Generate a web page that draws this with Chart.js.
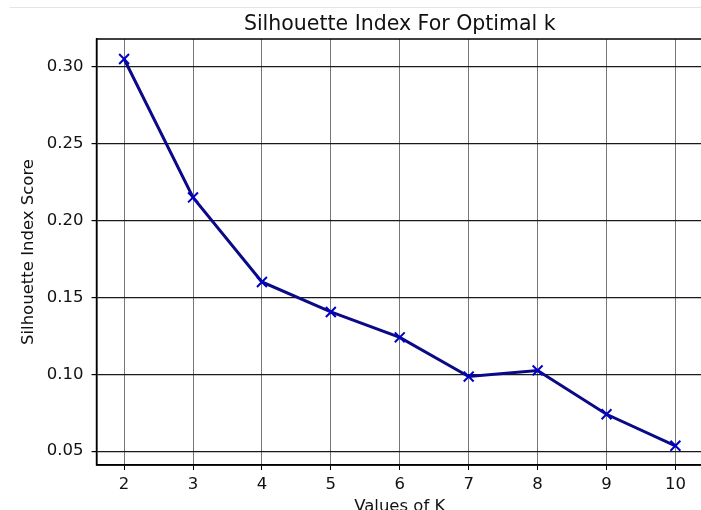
<!DOCTYPE html>
<html>
<head>
<meta charset="utf-8">
<script src="https://cdn.jsdelivr.net/npm/chart.js@4"></script>
<style>
  body { margin: 0; background: #fff; overflow: hidden; }
  canvas { display: block; }
</style>
</head>
<body>
<canvas id="myChart" width="712" height="520"></canvas>
<script>
// values
const kValues = [2, 3, 4, 5, 6, 7, 8, 9, 10];
const scores = [0.305, 0.215, 0.160, 0.1405, 0.124, 0.0985, 0.1025, 0.074, 0.0535];
const yTicks = [0.05, 0.10, 0.15, 0.20, 0.25, 0.30];

const chartTitle = 'Silhouette Index For Optimal k';
const xTitle = 'Values of K';
const yTitle = 'Silhouette Index Score';

const points = [];
for (let i = 0; i < kValues.length; i++) {
  points.push({ x: kValues[i], y: scores[i] });
}

const fontName = "'DejaVu Sans', sans-serif";

// title over the plot box, the frame and the faint line on top
const framePlugin = {
  id: 'frame',
  beforeDraw(chart) {
    const ctx = chart.ctx;
    ctx.save();
    ctx.fillStyle = '#e4e4e4';
    ctx.fillRect(10, 7, chart.width, 1);
    ctx.restore();
  },
  afterDraw(chart) {
    const a = chart.chartArea;
    const ctx = chart.ctx;
    ctx.save();
    ctx.strokeStyle = '#000';
    ctx.lineWidth = 1.5;
    ctx.strokeRect(a.left, a.top, a.right - a.left, a.bottom - a.top);
    ctx.fillStyle = '#111';
    ctx.font = '20.5px ' + fontName;
    ctx.textAlign = 'center';
    ctx.textBaseline = 'alphabetic';
    ctx.fillText(chartTitle, (a.left + a.right) / 2, 30);
    ctx.restore();
  }
};

const ctx = document.getElementById('myChart');

new Chart(ctx, {
  type: 'line',
  data: {
    datasets: [{
      data: points,
      borderColor: '#0a0a88',
      borderWidth: 3,
      tension: 0,
      fill: false,
      pointStyle: 'crossRot',
      pointRadius: 7,
      pointBorderWidth: 2,
      pointBorderColor: '#0000c8',
      pointBackgroundColor: '#0000c8'
    }]
  },
  options: {
    responsive: false,
    animation: false,
    layout: { padding: { top: 39, left: 9, right: 6, bottom: 5 } },
    plugins: {
      legend: { display: false },
      tooltip: { enabled: false }
    },
    scales: {
      x: {
        type: 'linear',
        min: 1.6,
        max: 10.4,
        afterBuildTicks: axis => { axis.ticks = kValues.map(v => ({ value: v })); },
        grid: { color: '#777', lineWidth: 1, tickLength: 5, tickColor: '#000' },
        border: { display: true, color: '#000', width: 1.5 },
        ticks: {
          color: '#111',
          padding: 6,
          maxRotation: 0,
          font: { family: fontName, size: 16.5, lineHeight: 1 },
          callback: v => String(v)
        },
        title: {
          display: true,
          text: xTitle,
          color: '#111',
          padding: { top: 0, bottom: 0 },
          font: { family: fontName, size: 16.5, lineHeight: 1 }
        }
      },
      y: {
        min: 0.041,
        max: 0.318,
        afterBuildTicks: axis => { axis.ticks = yTicks.map(v => ({ value: v })); },
        grid: { color: '#1a1a1a', lineWidth: 1.2, tickLength: 5, tickColor: '#000' },
        border: { display: true, color: '#000', width: 1.5 },
        ticks: {
          color: '#111',
          padding: 8,
          font: { family: fontName, size: 16.5 },
          callback: v => Number(v).toFixed(2)
        },
        title: {
          display: true,
          text: yTitle,
          color: '#111',
          padding: { top: 10, bottom: 0 },
          font: { family: fontName, size: 16.5 }
        }
      }
    }
  },
  plugins: [framePlugin]
});
</script>
</body>
</html>
